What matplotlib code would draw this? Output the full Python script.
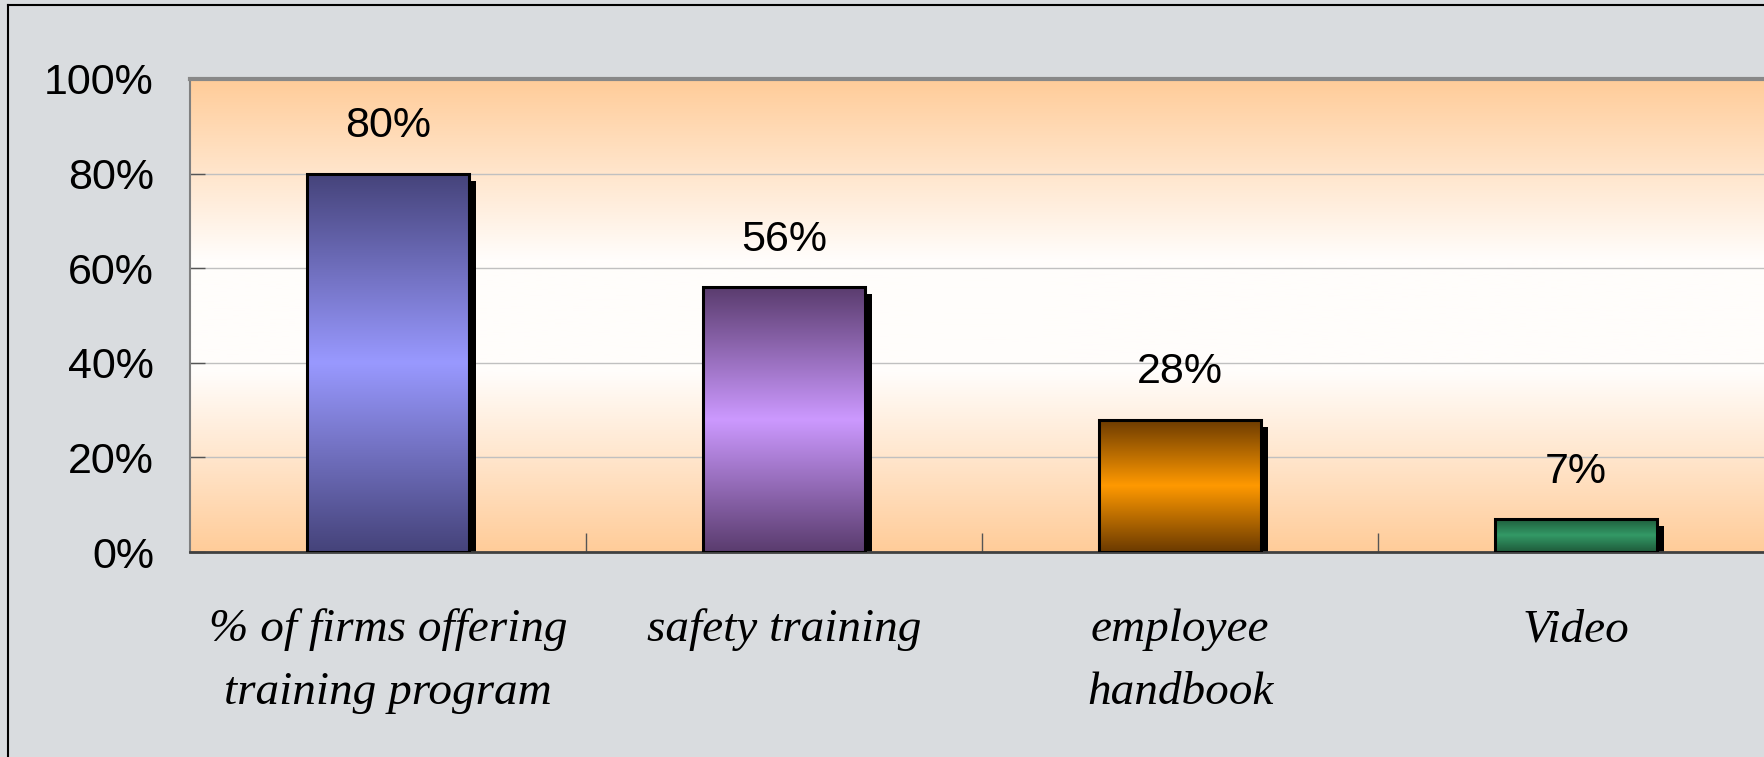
import numpy as np
import matplotlib
matplotlib.use("Agg")
import matplotlib.pyplot as plt
from matplotlib import font_manager
from matplotlib.colors import LinearSegmentedColormap
from matplotlib.lines import Line2D
from matplotlib.transforms import offset_copy

categories = ["% of firms offering\ntraining program", "safety training",
              "employee\nhandbook", "Video"]
values = [80, 56, 28, 7]
# (dark end, light middle) of each bar's vertical gradient
bar_colors = [("#45437a", "#9999ff"), ("#5a3c6e", "#cc99ff"),
              ("#6b3a00", "#ff9900"), ("#1e5a3a", "#339966")]
y_ticks = [0, 20, 40, 60, 80, 100]

# condensed sans for the numbers if it is there, else plain Liberation Sans
names = {f.name for f in font_manager.fontManager.ttflist}
if "Liberation Sans Narrow" in names:
    num_font, num_size = "Liberation Sans Narrow", 35
else:
    num_font, num_size = "Liberation Sans", 31

W, H = 1765, 757
fig = plt.figure(figsize=(W / 100, H / 100), dpi=100)
fig.patch.set_facecolor("#d9dcdf")

ax = fig.add_axes([190 / W, 1 - 552 / H, (1774 - 190) / W, (552 - 79) / H])

# plot area: orange at top and bottom, fading to white in the middle
bg = LinearSegmentedColormap.from_list(
    "bg", [(0, "#ffcc99"), (0.38, "#fffdfb"), (0.62, "#fffdfb"), (1, "#ffcc99")])
ax.imshow(np.linspace(0, 1, 256).reshape(-1, 1), cmap=bg, origin="lower",
          extent=(-0.5, 3.5, 0, 100), aspect="auto", zorder=0)

x = np.arange(len(categories))
width = 0.41

# drop shadow, shifted right/down by a few pixels
shadow = offset_copy(ax.transData, fig=fig, x=7, y=-7, units="dots")
ax.bar(x, values, width=width, color="black", transform=shadow, zorder=1.5)

bars = ax.bar(x, values, width=width, facecolor="none", edgecolor="black",
              linewidth=2.2, zorder=3)
for b, (dark, light) in zip(bars, bar_colors):
    cmap = LinearSegmentedColormap.from_list("", [dark, light, dark])
    im = ax.imshow(np.linspace(0, 1, 256).reshape(-1, 1), cmap=cmap, origin="lower",
                   extent=(b.get_x(), b.get_x() + b.get_width(), 0, b.get_height()),
                   aspect="auto", zorder=2)
    im.set_clip_path(b)

for xi, v in zip(x, values):
    ax.annotate(f"{v}%", (xi, v), xytext=(0, 34), textcoords="offset points",
                ha="center", va="center", fontsize=num_size, family=num_font)

# category labels, one line at a time
for xi, label in zip(x, categories):
    for k, line in enumerate(label.split("\n")):
        ax.annotate(line, (xi, 0), xytext=(0, -56 - 45 * k), textcoords="offset points",
                    ha="center", va="center", fontsize=34, style="italic",
                    family="Liberation Serif", annotation_clip=False)

ax.set_xlim(-0.5, 3.5)
ax.set_ylim(0, 100)
ax.set_yticks(y_ticks)
ax.set_yticklabels([f"{t}%" for t in y_ticks], fontsize=num_size, family=num_font)
ax.tick_params(axis="y", direction="in", length=11, width=1, color="#555555", pad=26)
ax.set_xticks([])
ax.set_xticks([0.5, 1.5, 2.5], minor=True)
ax.tick_params(axis="x", which="minor", direction="in", length=14, width=1, color="#555555")
ax.yaxis.grid(True, color="#c0c0c0", linewidth=1)
ax.set_axisbelow(True)

ax.spines["right"].set_visible(False)
ax.spines["top"].set_color("#888888")
ax.spines["top"].set_linewidth(3)
ax.spines["left"].set_color("#808080")
ax.spines["left"].set_linewidth(1.5)
ax.spines["bottom"].set_color("#404040")
ax.spines["bottom"].set_linewidth(2)

# thin frame along the top and left of the slide
fig.add_artist(Line2D([8 / W, 8 / W], [0, 1 - 5 / H], color="black", lw=1.5))
fig.add_artist(Line2D([8 / W, 1], [1 - 5 / H, 1 - 5 / H], color="black", lw=1.5))

fig.savefig("out.png", dpi=100, facecolor=fig.get_facecolor())
